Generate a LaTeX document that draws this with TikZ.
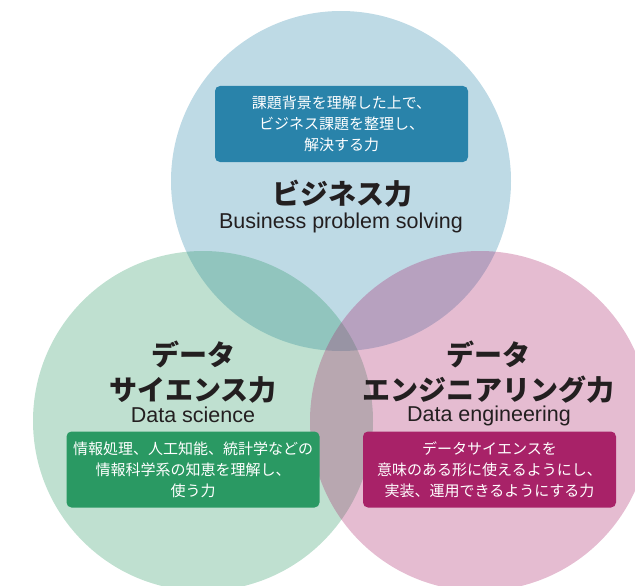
\documentclass[tikz,border=0pt]{standalone}
\usepackage{fontspec}
\setmainfont{Liberation Sans}
\newfontfamily\jpfont{Noto Sans CJK JP}
\usepackage{xcolor}
\usepackage{tikz}

\definecolor{bizblue}{RGB}{41,131,170}
\definecolor{scigreen}{RGB}{42,153,99}
\definecolor{engpink}{RGB}{168,34,104}
\definecolor{inkblack}{RGB}{35,31,32}

\tikzset{
  venn/.style={fill=#1, fill opacity=0.3},
  taskbox/.style={fill=#1, rounded corners=5pt, text=white, align=center,
    font=\jpfont\fontsize{15}{21}\selectfont,
    minimum width=253pt, minimum height=76pt, inner sep=0pt},
  titlejp/.style={text=inkblack, align=center,
    font=\jpfont\bfseries\fontsize{28}{35}\selectfont},
  titleen/.style={text=inkblack, font=\fontsize{21.5}{24}\selectfont},
}

\begin{document}
\begin{tikzpicture}[x=1pt, y=-1pt]

\useasboundingbox (0,0) rectangle (635,586)					;
\clip (0,0) rectangle (635,586)								;

%%%%------------Sirkler----------------%%
\fill[venn=bizblue]  (341,181) circle [radius=170pt]		;
\fill[venn=scigreen] (203,421) circle [radius=170pt]		;
\fill[venn=engpink]  (480,421) circle [radius=170pt]		;

%%%%------------Business----------------%%
\node[taskbox=bizblue] (bizbox) at (341.5,124)
  {課題背景を理解した上で、\\ビジネス課題を整理し、\\解決する力}	;
\node[titlejp] (bizjp) at (342,194) {ビジネス力}				;
\node[titleen] (bizen) at (341,223) {Business problem solving}	;

%%%%------------Data science----------------%%
\node[titlejp] (scijp) at (193,372.5) {データ\\サイエンス力}		;
\node[titleen] (scien) at (193,415) {Data science}				;
\node[taskbox=scigreen] (scibox) at (193,469.5)
  {情報処理、人工知能、統計学などの\\情報科学系の知恵を理解し、\\使う力}	;

%%%%------------Data engineering----------------%%
\node[titlejp] (engjp) at (488.5,372.5) {データ\\エンジニアリング力}	;
\node[titleen] (engen) at (489,416) {Data engineering}			;
\node[taskbox=engpink] (engbox) at (489.5,469.5)
  {データサイエンスを\\意味のある形に使えるようにし、\\実装、運用できるようにする力}	;

% \draw [help lines, step=10] (0,0) grid (635,586);
\end{tikzpicture}
\end{document}
